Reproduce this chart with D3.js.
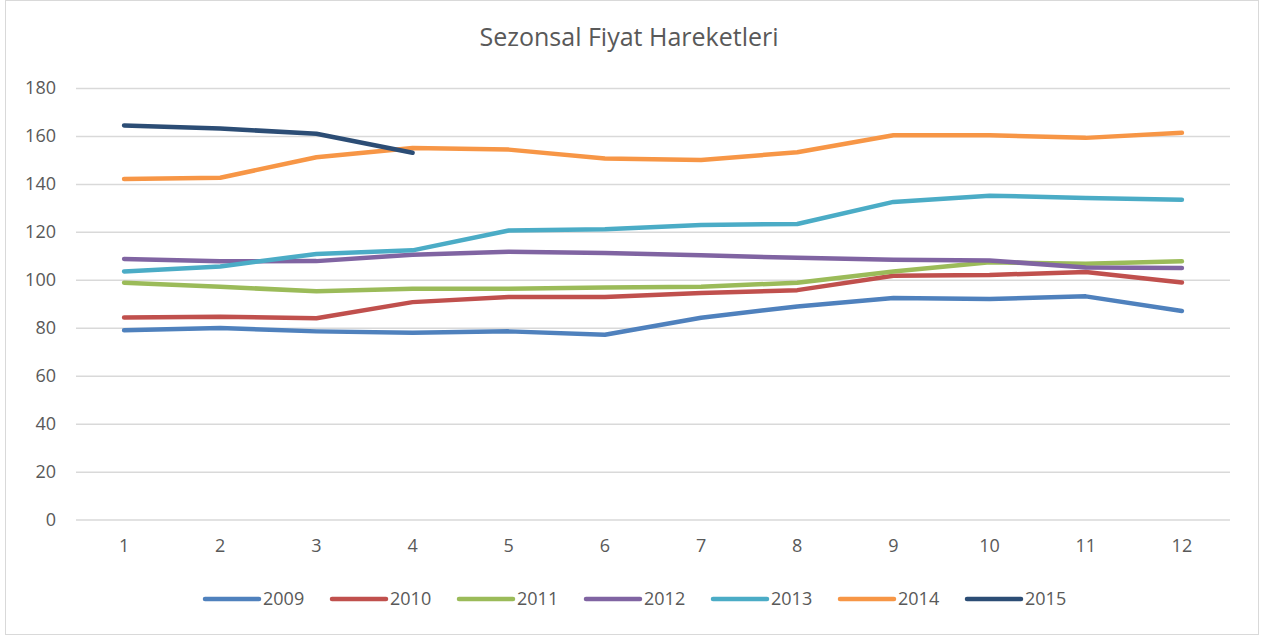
<!DOCTYPE html>
<html>
<head>
<meta charset="utf-8">
<script src="https://cdn.jsdelivr.net/npm/d3@7"></script>
<style>
  body { margin: 0; background: #fff; }
  text { font-family: "Open Sans", sans-serif; fill: #595959; }
</style>
</head>
<body>
<div class="content"></div>
<script>
const months = [1, 2, 3, 4, 5, 6, 7, 8, 9, 10, 11, 12];
const years = ['2009', '2010', '2011', '2012', '2013', '2014', '2015'];
const s2009 = [79.0, 79.9, 78.5, 77.9, 78.5, 77.1, 84.2, 88.9, 92.4, 92.0, 93.1, 87.0];
const s2010 = [84.3, 84.6, 84.0, 90.7, 92.8, 92.8, 94.5, 95.7, 101.7, 102.0, 103.3, 98.9];
const s2011 = [98.8, 97.1, 95.2, 96.3, 96.3, 96.8, 97.1, 98.8, 103.5, 107.3, 106.7, 107.7];
const s2012 = [108.7, 107.7, 107.8, 110.5, 111.7, 111.2, 110.2, 109.2, 108.4, 108.1, 105.1, 104.9];
const s2013 = [103.5, 105.6, 110.8, 112.3, 120.6, 121.1, 122.9, 123.3, 132.5, 135.1, 134.1, 133.4];
const s2014 = [142.1, 142.6, 151.1, 155.0, 154.3, 150.6, 150.0, 153.2, 160.3, 160.3, 159.2, 161.3];
const s2015 = [164.4, 163.1, 160.9, 153.0];
const yTicks = [0, 20, 40, 60, 80, 100, 120, 140, 160, 180];
const colors = ['#4f81bd', '#c0504d', '#9bbb59', '#8064a2', '#4bacc6', '#f79646', '#2c4d75'];

const series = years.map((name, i) => ({
  name,
  color: colors[i],
  values: [s2009, s2010, s2011, s2012, s2013, s2014, s2015][i]
}));

const [svgWidth, svgHeight] = [1264, 636];
const svg = d3.select('.content')
  .append('svg')
  .attr('width', svgWidth)
  .attr('height', svgHeight);

// outer chart frame
svg.append('rect')
  .attr('x', 5.5).attr('y', 0.5)
  .attr('width', 1253).attr('height', 634)
  .attr('fill', '#fff')
  .attr('stroke', '#d9d9d9');

const x = d3.scaleBand()
  .domain(months)
  .range([76, 1230]);
const y = d3.scaleLinear()
  .domain([0, 180])
  .range([519.6, 88]);
const cx = m => x(m) + x.bandwidth() / 2;

svg.append('text')
  .attr('x', 629)
  .attr('y', 46)
  .attr('text-anchor', 'middle')
  .style('font-size', '25px')
  .text('Sezonsal Fiyat Hareketleri');

// gridlines + y labels
const yAxis = d3.axisLeft(y)
  .tickValues(yTicks)
  .tickSize(-(1230 - 76))
  .tickPadding(20);
svg.append('g')
  .attr('transform', 'translate(76,0)')
  .call(yAxis)
  .call(g => g.select('.domain').remove())
  .call(g => g.selectAll('line').attr('stroke', '#d9d9d9').attr('stroke-width', 1.5))
  .call(g => g.selectAll('text').style('font-size', '18px').attr('fill', '#595959'));

const xAxis = d3.axisBottom(x)
  .tickSize(0)
  .tickPadding(20);
svg.append('g')
  .attr('transform', 'translate(0,519.6)')
  .call(xAxis)
  .call(g => g.select('.domain').remove())
  .call(g => g.selectAll('text').style('font-size', '18px').attr('fill', '#595959'));

const line = d3.line()
  .x((d, i) => cx(months[i]))
  .y(d => y(d));

svg.selectAll('path.series')
  .data(series)
  .enter()
  .append('path')
  .classed('series', true)
  .attr('fill', 'none')
  .attr('stroke', d => d.color)
  .attr('stroke-width', 4.5)
  .attr('stroke-linecap', 'round')
  .attr('stroke-linejoin', 'round')
  .attr('d', d => line(d.values));

// legend
const legend = svg.selectAll('.legend')
  .data(series)
  .enter()
  .append('g')
  .classed('legend', true)
  .attr('transform', (d, i) => `translate(${205 + 127 * i}, 599)`);
legend.append('line')
  .attr('x1', 0).attr('x2', 54)
  .attr('stroke', d => d.color)
  .attr('stroke-width', 4.5)
  .attr('stroke-linecap', 'round');
legend.append('text')
  .attr('x', 58)
  .attr('dy', '0.35em')
  .style('font-size', '18px')
  .text(d => d.name);
</script>
</body>
</html>
